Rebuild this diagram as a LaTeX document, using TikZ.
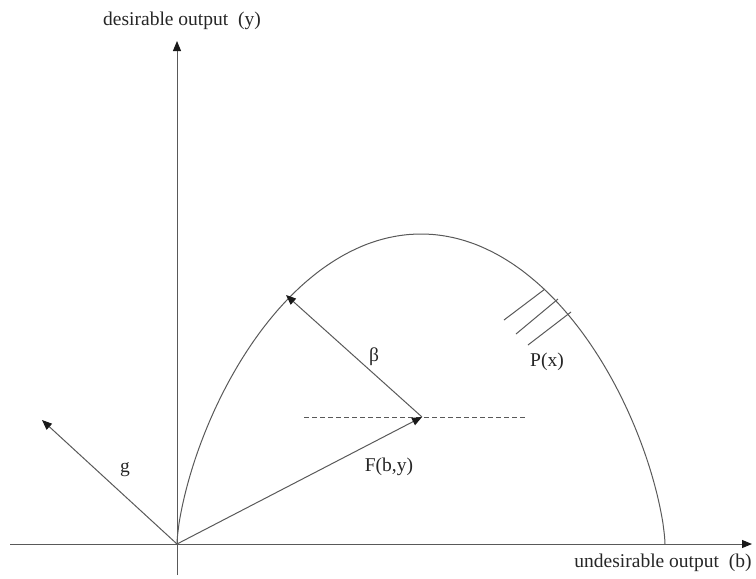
\documentclass[tikz,border=0pt]{standalone}
\usepackage{fontspec}
\setmainfont{Liberation Serif}
\usetikzlibrary{arrows.meta}
\begin{document}
\begin{tikzpicture}[x=1pt,y=-1pt,
  ln/.style={draw=black!65,line width=1pt},
  arr/.style={ln,-{Triangle[length=10pt,width=8pt,color=black!90]}},
  lbl/.style={font=\fontsize{19.5}{22}\selectfont,text=black!85,inner sep=0pt}]
\useasboundingbox (0,0) rectangle (756,579);
% axes
\coordinate (O) at (177,544);
\coordinate (ybot) at (177,575);
\coordinate (ytop) at (177,41);
\coordinate (xleft) at (10,544);
\coordinate (xright) at (752,544);
\draw[arr] (ybot) -- (ytop);
\draw[arr] (xleft) -- (xright);
\node[lbl] (ylab) at (182,21) {desirable output\ \ (y)};
\node[lbl] (xlab) at (663,563) {undesirable output\ \ (b)};
% frontier
\draw[ln] (665,544) -- plot[domain=0.5:179.5,samples=180] ({421+244*cos(\x)},{544-310*pow(sin(\x),4/3)}) -- (O);
% hatching P(x)
\coordinate (h1a) at (545,289); \coordinate (h1b) at (504,320);
\coordinate (h2a) at (558,299); \coordinate (h2b) at (516,334);
\coordinate (h3a) at (571,312); \coordinate (h3b) at (528,345);
\draw[ln] (h1a) -- (h1b);
\draw[ln] (h2a) -- (h2b);
\draw[ln] (h3a) -- (h3b);
\node[lbl] (plab) at (547,362) {P(x)};
% dashed line
\coordinate (dl) at (304,417);
\coordinate (dr) at (527,417);
\draw[ln,dash pattern=on 5pt off 3pt] (dl) -- (dr);
% vectors
\coordinate (F) at (422,417);
\coordinate (B) at (286,295);
\coordinate (G) at (42,420);
\draw[arr] (O) -- (F);
\draw[arr] (F) -- (B);
\draw[arr] (O) -- (G);
\node[lbl] (flab) at (389,467) {F(b,y)};
\node[lbl] (blab) at (374,357) {β};
\node[lbl] (glab) at (125,470) {g};
\end{tikzpicture}
\end{document}
